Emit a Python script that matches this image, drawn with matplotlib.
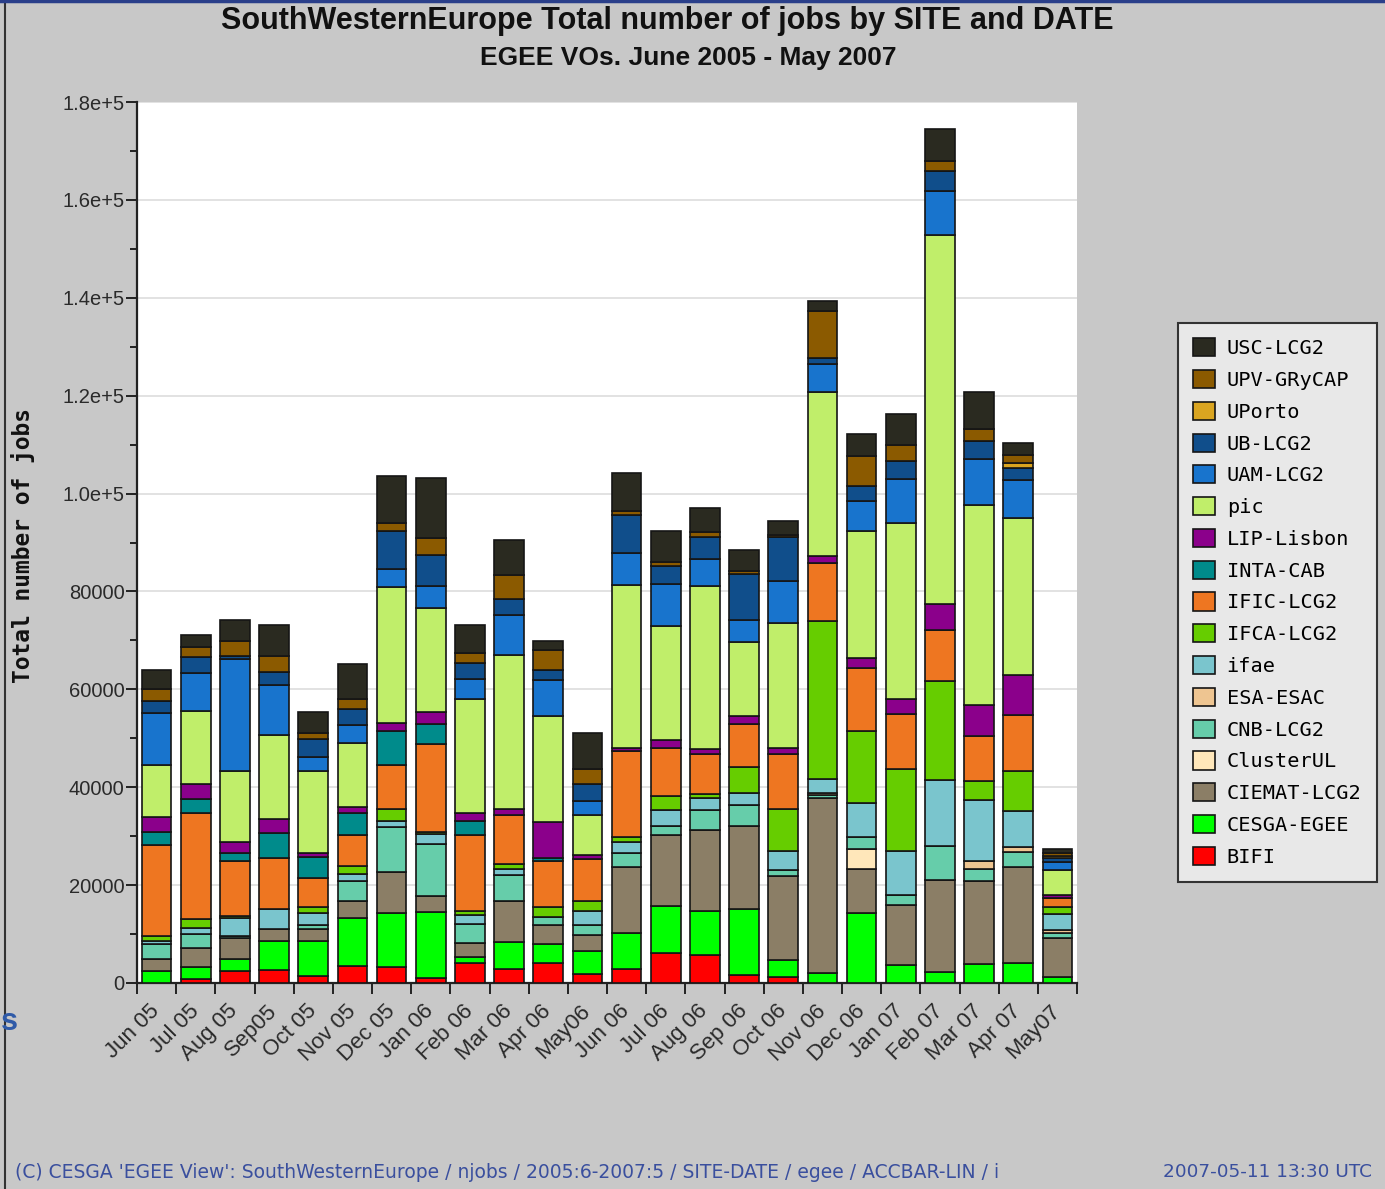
import matplotlib
matplotlib.use("Agg")
import matplotlib.pyplot as plt
import numpy as np
from matplotlib.patches import Patch
from matplotlib.ticker import FixedLocator, FuncFormatter, MultipleLocator

months = ["Jun 05", "Jul 05", "Aug 05", "Sep05", "Oct 05", "Nov 05", "Dec 05", "Jan 06",
          "Feb 06", "Mar 06", "Apr 06", "May06", "Jun 06", "Jul 06", "Aug 06", "Sep 06",
          "Oct 06", "Nov 06", "Dec 06", "Jan 07", "Feb 07", "Mar 07", "Apr 07", "May07"]

# stacked bottom -> top
BIFI = [0, 800, 2450, 2600, 1450, 3500, 3250, 1000, 4100, 2950, 4100, 1750,
        2950, 6150, 5700, 1550, 1200, 0, 0, 0, 0, 0, 0, 0]
CESGA = [2450, 2550, 2400, 6050, 7200, 9700, 11050, 13600, 1200, 5350, 3950, 4800,
         7250, 9600, 9050, 13550, 3600, 2000, 14350, 3650, 2300, 3800, 4150, 1300]
CIEMAT = [2400, 3900, 4400, 2350, 2400, 3550, 8300, 3200, 2900, 8450, 3800, 3250,
          13450, 14500, 16600, 17050, 17100, 35700, 8950, 12250, 18700, 17100, 19550, 7800]
ClusterUL = [0, 0, 0, 0, 0, 0, 0, 0, 0, 0, 0, 0,
             0, 0, 0, 0, 0, 0, 4100, 0, 0, 0, 0, 0]
CNB = [3200, 2850, 400, 0, 850, 4100, 9200, 10650, 3950, 5350, 1600, 2100,
       2900, 1850, 4050, 4150, 1250, 800, 2450, 2100, 6950, 2350, 3000, 1200]
ESA = [0, 0, 0, 0, 0, 0, 0, 0, 0, 0, 0, 0,
       0, 0, 0, 0, 0, 300, 0, 0, 0, 1650, 1050, 550]
ifae = [500, 1050, 3550, 4050, 2450, 1500, 1350, 2000, 1750, 1200, 0, 2900,
        2350, 3250, 2400, 2450, 3750, 2900, 6850, 8950, 13450, 12550, 7450, 3250]
IFCA = [1000, 1950, 500, 0, 1150, 1650, 2350, 500, 850, 950, 2100, 2000,
        900, 2900, 850, 5300, 8600, 32300, 14800, 16800, 20400, 3750, 8200, 1350]
IFIC = [18700, 21700, 11250, 10550, 6050, 6150, 8950, 17900, 15500, 10100, 9350, 8450,
        17600, 9850, 8150, 8950, 11350, 11900, 12950, 11300, 10250, 9350, 11400, 1950]
INTA = [2700, 2850, 1550, 4950, 4150, 4550, 7050, 4100, 2800, 0, 600, 0,
        0, 0, 0, 0, 0, 0, 0, 0, 0, 0, 0, 0]
LIP = [3000, 3000, 2250, 2950, 950, 1250, 1550, 2450, 1750, 1200, 7400, 900,
       700, 1550, 1000, 1650, 1200, 1250, 2050, 3050, 5400, 6150, 8200, 600]
pic = [10550, 14850, 14550, 17200, 16750, 13100, 27800, 21250, 23200, 31450, 21600, 8100,
       33200, 23350, 33350, 15000, 25500, 33700, 25750, 35850, 75300, 41000, 32050, 5050]
UAM = [10700, 7850, 22800, 10250, 2850, 3650, 3650, 4500, 4150, 8250, 7350, 2900,
       6550, 8600, 5400, 4500, 8650, 5600, 6200, 9050, 9000, 9400, 7750, 1700]
UB = [2400, 3200, 800, 2550, 3700, 3200, 7850, 6250, 3250, 3300, 2000, 3450,
      7750, 3600, 4500, 9500, 8950, 1150, 3150, 3650, 4100, 3700, 2350, 700]
UPorto = [0, 0, 0, 0, 0, 0, 0, 0, 0, 0, 0, 0,
          0, 0, 0, 0, 0, 0, 0, 0, 0, 0, 1100, 450]
UPV = [2400, 2000, 3000, 3350, 1150, 2050, 1550, 3600, 2100, 4850, 4100, 3050,
       900, 850, 1000, 500, 400, 9600, 6150, 3200, 2050, 2400, 1600, 650]
USC = [3950, 2650, 4200, 6200, 4300, 7250, 9650, 12150, 5550, 7150, 2000, 7450,
       7800, 6250, 4900, 4300, 2900, 2050, 4400, 6400, 6600, 7500, 2550, 900]

series_names = ["BIFI", "CESGA-EGEE", "CIEMAT-LCG2", "ClusterUL", "CNB-LCG2", "ESA-ESAC",
                "ifae", "IFCA-LCG2", "IFIC-LCG2", "INTA-CAB", "LIP-Lisbon", "pic",
                "UAM-LCG2", "UB-LCG2", "UPorto", "UPV-GRyCAP", "USC-LCG2"]
series_vals = [BIFI, CESGA, CIEMAT, ClusterUL, CNB, ESA, ifae, IFCA, IFIC, INTA, LIP,
               pic, UAM, UB, UPorto, UPV, USC]
series_colors = ["#ff0000", "#00ff00", "#8b7e66", "#ffe7ba", "#66cdaa", "#eec591",
                 "#7ac5cd", "#66cd00", "#ee7621", "#008b8b", "#8b008b", "#c0ee6a",
                 "#1874cd", "#104e8b", "#daa520", "#8b5a00", "#2a2a20"]

BG = "#c8c8c8"
W, H = 1385, 1189
fig = plt.figure(figsize=(W / 100, H / 100), dpi=100, facecolor=BG)

L, R, T, B = 137, 1077, 102, 983
ax = fig.add_axes([L / W, 1 - B / H, (R - L) / W, (B - T) / H])
ax.set_facecolor("white")

x = np.arange(len(months))
bottom = np.zeros(len(months))
for name, vals, col in zip(series_names, series_vals, series_colors):
    v = np.array(vals, dtype=float)
    ax.bar(x, v, width=0.76, bottom=bottom, color=col, edgecolor="#151515",
           linewidth=1.2, zorder=3)
    bottom += v

ax.set_xlim(-0.5, len(months) - 0.5)
ax.set_ylim(0, 180000)

for s in ["top", "right"]:
    ax.spines[s].set_visible(False)
ax.spines["left"].set_linewidth(1.6)
ax.spines["left"].set_color("#222222")
ax.spines["bottom"].set_linewidth(1.6)
ax.spines["bottom"].set_color("#222222")

ax.yaxis.set_major_locator(MultipleLocator(20000))
ax.yaxis.set_minor_locator(MultipleLocator(10000))


def yfmt(v, pos):
    if v >= 100000:
        return "%.1fe+5" % (v / 100000)
    return "%d" % int(round(v))


ax.yaxis.set_major_formatter(FuncFormatter(yfmt))
ax.tick_params(axis="y", which="major", length=8, width=1.4, color="#222222",
               labelsize=14.5, labelcolor="#2a2a2a", pad=1)
ax.tick_params(axis="y", which="minor", length=5, width=1.4, color="#222222")
for lab in ax.get_yticklabels():
    lab.set_family("Liberation Sans")

ax.grid(axis="y", which="major", color="#e2e2e2", linewidth=1.4, zorder=0)

ax.set_xticks(x)
ax.set_xticklabels(months, rotation=45, ha="right", va="center",
                   rotation_mode="anchor", family="Liberation Sans", fontsize=16,
                   color="#2a2a2a")
ax.tick_params(axis="x", which="major", length=0, pad=18)
ax.xaxis.set_minor_locator(FixedLocator(np.arange(-0.5, len(months), 1.0)))
ax.tick_params(axis="x", which="minor", length=8, width=1.4, color="#222222")

fig.text(23 / W, 1 - 545 / H, "Total number of jobs", rotation=90, ha="center",
         va="center", family="DejaVu Sans Mono", weight="bold", fontsize=16.5,
         color="#111111")

fig.text(667 / W, 1 - 21 / H, "SouthWesternEurope Total number of jobs by SITE and DATE",
         ha="center", va="center", family="Liberation Sans", weight="bold",
         fontsize=22, color="#111111")
fig.text(688 / W, 1 - 58 / H, "EGEE VOs. June 2005 - May 2007", ha="center",
         va="center", family="Liberation Sans", weight="bold", fontsize=19,
         color="#111111")

handles = [Patch(facecolor=c, edgecolor="#151515", linewidth=1.2)
           for c in series_colors[::-1]]
leg = fig.legend(handles, series_names[::-1], loc="upper left",
                 bbox_to_anchor=(1178 / W, 1 - 323 / H), frameon=True,
                 prop={"family": "DejaVu Sans Mono", "size": 14.6},
                 handlelength=1.05, handleheight=1.0, handletextpad=0.6,
                 labelspacing=0.58, borderpad=0.75, borderaxespad=0.0,
                 fancybox=False)
leg.get_frame().set_facecolor("#e8e8e8")
leg.get_frame().set_edgecolor("#333333")
leg.get_frame().set_linewidth(1.5)
leg.get_frame().set_alpha(1)

FOOT = "#3a4f9e"
fig.text(15 / W, 1 - 1172 / H,
         "(C) CESGA 'EGEE View': SouthWesternEurope / njobs / 2005:6-2007:5 / SITE-DATE / egee / ACCBAR-LIN / i",
         ha="left", va="center", family="DejaVu Sans", fontsize=13.5, color=FOOT)
fig.text(1372 / W, 1 - 1172 / H, "2007-05-11 13:30 UTC", ha="right", va="center",
         family="DejaVu Sans", fontsize=13.3, color=FOOT)

# frame lines of the screenshot
fig.add_artist(plt.Line2D([5 / W, 5 / W], [0, 1], color="#333333", linewidth=1.5))
fig.add_artist(plt.Line2D([0, 1], [1 - 1 / H, 1 - 1 / H], color="#2a3f8a", linewidth=2.5))
fig.text(0.5 / W, 1 - 1022 / H, "s", ha="left", va="center", family="Liberation Sans",
         weight="bold", fontsize=22, color="#2f5aa8")

fig.savefig("out.png", dpi=100, facecolor=BG)
